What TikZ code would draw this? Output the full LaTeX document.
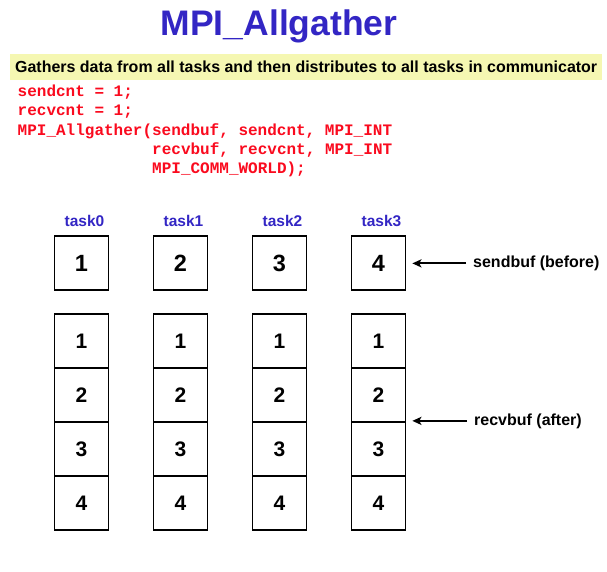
\documentclass[tikz,border=0pt]{standalone}
\usepackage{fontspec}
\setmainfont{Liberation Sans}
\setmonofont{Liberation Mono}
\usetikzlibrary{arrows.meta}
\definecolor{titleblue}{RGB}{51,38,196}
\definecolor{bandyellow}{RGB}{245,247,178}
\definecolor{codered}{RGB}{250,10,30}
\tikzset{
  title/.style={anchor=base,inner sep=0pt,text=titleblue,font=\fontsize{35.5}{36}\selectfont\bfseries},
  band/.style={fill=bandyellow,draw=none},
  bandtext/.style={anchor=base west,inner sep=0pt,text=black},
  code/.style={anchor=base west,inner sep=0pt,text=codered,font=\fontsize{16}{19}\selectfont\ttfamily\bfseries},
  tasklbl/.style={anchor=base,inner sep=0pt,text=titleblue,font=\fontsize{15.5}{16}\selectfont\bfseries},
  sendcell/.style={draw=black,line width=1.2pt,minimum width=54.5pt,minimum height=54pt,inner sep=0pt,font=\fontsize{23.5}{24}\selectfont\bfseries},
  recvcell/.style={draw=black,line width=1.2pt,minimum width=54.5pt,minimum height=54pt,inner sep=0pt,font=\fontsize{21}{22}\selectfont\bfseries},
  bufflbl/.style={anchor=base west,inner sep=0pt,font=\fontsize{16}{17}\selectfont\bfseries},
  pointer/.style={line width=2pt,-{Stealth[length=9pt,width=8pt,inset=2pt]},shorten <=7pt,shorten >=6pt}
}
\begin{document}
\begin{tikzpicture}[x=1pt,y=-1pt]
\useasboundingbox (0,0) rectangle (607,571);
% title
\node[title] (ttl) at (279,35) {MPI\_Allgather};
% band
\path[band] (10,54) rectangle (602,79.5);
\node[bandtext] (desc) at (15,72) {\resizebox{582pt}{\height}{\fontsize{16}{17}\selectfont\bfseries Gathers data from all tasks and then distributes to all tasks in communicator}};
% code
\node[code] (c1) at (17.5,96.7) {sendcnt = 1;};
\node[code] (c2) at (17.5,115.9) {recvcnt = 1;};
\node[code] (c3) at (17.5,135.1) {MPI\_Allgather(sendbuf, sendcnt, MPI\_INT};
\node[code] (c4) at (152,154.3) {recvbuf, recvcnt, MPI\_INT};
\node[code] (c5) at (152,173.5) {MPI\_COMM\_WORLD);};
% columns
\foreach \i/\cx/\v in {0/81.5/1,1/180.5/2,2/279.5/3,3/378.5/4}{
  \node[tasklbl] (t\i) at (\cx+3,226.6) {task\i};
  \node[sendcell] (s\i) at (\cx,263) {\v};
  \foreach \j/\cy in {1/341,2/395,3/449,4/503}{
    \node[recvcell] (r\i\j) at (\cx,\cy) {\j};
  }
}
% labels and arrows
\node[bufflbl] (sendlbl) at (473,267.5) {sendbuf (before)};
\node[bufflbl] (recvlbl) at (474,425) {recvbuf (after)};
\draw[pointer] (sendlbl.west) -- (sendlbl.west -| s3.east);
\draw[pointer] (recvlbl.west) -- (recvlbl.west -| r32.east);
\end{tikzpicture}
\end{document}
